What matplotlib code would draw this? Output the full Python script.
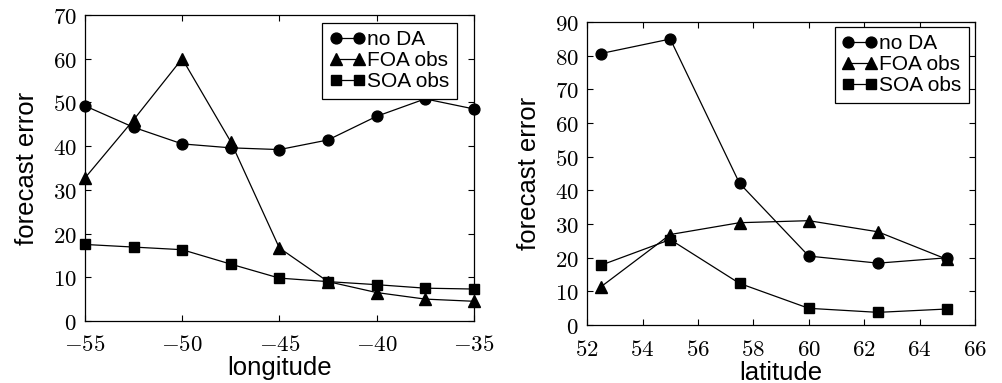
import matplotlib
matplotlib.use("Agg")
import matplotlib.pyplot as plt
import matplotlib.ticker as ticker

plt.rcParams['mathtext.fontset'] = 'cm'
plt.rcParams['font.family'] = ['Liberation Sans', 'DejaVu Sans']

# left panel: longitude
lon = [-55, -52.5, -50, -47.5, -45, -42.5, -40, -37.5, -35]
lon_noda = [49.2, 44.3, 40.5, 39.6, 39.2, 41.4, 46.8, 50.8, 48.5]
lon_foa = [32.7, 46.0, 60.0, 41.0, 16.7, 9.0, 6.5, 5.0, 4.5]
lon_soa = [17.5, 16.9, 16.3, 13.0, 9.8, 9.0, 8.3, 7.5, 7.3]

# right panel: latitude
lat = [52.5, 55, 57.5, 60, 62.5, 65]
lat_noda = [80.6, 84.9, 42.1, 20.5, 18.4, 20.0]
lat_foa = [11.4, 26.9, 30.4, 31.0, 27.7, 19.5]
lat_soa = [17.8, 25.4, 12.4, 5.0, 3.8, 4.8]

labels = ['no DA', 'FOA obs', 'SOA obs']
markers = ['o', '^', 's']
msizes = [7.8, 8.8, 7.8]


def tick_fmt(v, _):
    return r'$%d$' % round(v)


def draw(ax, x, series, xlim, ylim, xticks, yticks, xlabel, leg_anchor):
    for y, lab, m, ms in zip(series, labels, markers, msizes):
        ax.plot(x, y, color='black', lw=0.9, marker=m, ms=ms,
                mfc='black', mec='black', label=lab, clip_on=False, zorder=3)
    ax.set_xlim(*xlim)
    ax.set_ylim(*ylim)
    ax.set_xticks(xticks)
    ax.set_yticks(yticks)
    ax.xaxis.set_major_formatter(ticker.FuncFormatter(tick_fmt))
    ax.yaxis.set_major_formatter(ticker.FuncFormatter(tick_fmt))
    ax.tick_params(direction='in', top=True, right=True, labelsize=16.5,
                   length=4, width=0.8, colors='black')
    ax.tick_params(axis='x', pad=9)
    ax.tick_params(axis='y', pad=6)
    for s in ax.spines.values():
        s.set_linewidth(0.9)
    ax.set_xlabel(xlabel, fontsize=18.5, labelpad=0)
    ax.set_ylabel('forecast error', fontsize=18.5, labelpad=10)
    leg = ax.legend(loc='upper right', bbox_to_anchor=leg_anchor,
                    fontsize=15, numpoints=2,
                    handlelength=1.7, handletextpad=0.1, labelspacing=0.1,
                    borderpad=0.35, borderaxespad=0, fancybox=False,
                    framealpha=1, edgecolor='black')
    leg.get_frame().set_linewidth(0.9)


fig = plt.figure(figsize=(10.02, 3.83), dpi=100)
ax1 = fig.add_axes([0.0848, 0.162, 0.388, 0.799])
ax2 = fig.add_axes([0.586, 0.151, 0.387, 0.792])

draw(ax1, lon, [lon_noda, lon_foa, lon_soa], (-55, -35), (0, 70),
     [-55, -50, -45, -40, -35], range(0, 71, 10), 'longitude',
     (1 - 17 / 389, 1 - 8 / 306))
draw(ax2, lat, [lat_noda, lat_foa, lat_soa], (52, 66), (0, 90),
     range(52, 67, 2), range(0, 91, 10), 'latitude',
     (1 - 6 / 388, 1 - 5 / 303))

fig.savefig('out.png', dpi=100)
